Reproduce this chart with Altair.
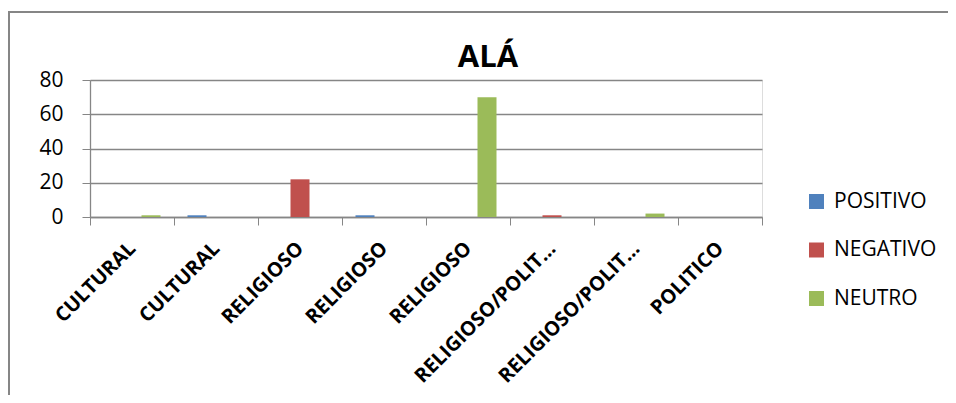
import json
import altair as alt
import pandas as pd

categories = ["CULTURAL", "CULTURAL", "RELIGIOSO", "RELIGIOSO", "RELIGIOSO",
              "RELIGIOSO/POLIT…", "RELIGIOSO/POLIT…", "POLITICO"]
series = ["POSITIVO", "NEGATIVO", "NEUTRO"]
positivo = [0, 1, 0, 1, 0, 0, 0, 0]
negativo = [0, 0, 22, 0, 0, 1, 0, 0]
neutro = [1, 0, 0, 0, 70, 0, 2, 0]
colors = ["#4F81BD", "#C0504D", "#9BBB59"]
y_ticks = [0, 20, 40, 60, 80]
title_text = "ALÁ"

rows = []
for s, vals in zip(series, [positivo, negativo, neutro]):
    for i, v in enumerate(vals):
        rows.append({"idx": i, "serie": s, "valor": v})
df = pd.DataFrame(rows)

label_expr = json.dumps(categories, ensure_ascii=False) + "[datum.value]"
FONT = "Open Sans"
GRAY = "#868686"

bars = alt.Chart(df).mark_bar().encode(
    x=alt.X("idx:O", sort=list(range(len(categories))),
            scale=alt.Scale(paddingInner=0, paddingOuter=0),
            axis=alt.Axis(title=None, labelExpr=label_expr, labelAngle=-45,
                          labelFont=FONT, labelFontWeight="bold", labelFontSize=20,
                          labelColor="#000000", labelPadding=13, labelOffset=-7,
                          labelLimit=400,
                          tickBand="extent", tickSize=8, tickColor=GRAY,
                          domainColor=GRAY, domainWidth=1.3, grid=False,
                          labelOverlap=False)),
    xOffset=alt.XOffset("serie:N", sort=series,
                        scale=alt.Scale(paddingInner=0, paddingOuter=0.71)),
    y=alt.Y("valor:Q", scale=alt.Scale(domain=[0, 80], nice=False),
            axis=alt.Axis(title=None, values=y_ticks, labelFont=FONT,
                          labelFontSize=21, labelColor="#000000", labelPadding=19,
                          tickSize=8, tickColor=GRAY, domainColor=GRAY,
                          domainWidth=1.3, gridColor=GRAY, gridWidth=1.3)),
    color=alt.Color("serie:N", sort=series,
                    scale=alt.Scale(domain=series, range=colors),
                    legend=alt.Legend(title=None, orient="none", legendX=716,
                                      legendY=111, symbolType="square",
                                      symbolSize=225, symbolStrokeWidth=0,
                                      labelFont=FONT, labelFontSize=21,
                                      labelColor="#000000", labelOffset=7,
                                      rowPadding=26.5, padding=0)),
)

one = pd.DataFrame({"k": [0]})
frame_left = alt.Chart(one).mark_rule(stroke=GRAY, strokeWidth=2).encode(
    x=alt.value(-81), y=alt.value(-69), y2=alt.value(330))
frame_top = alt.Chart(one).mark_rule(stroke=GRAY, strokeWidth=2).encode(
    x=alt.value(-82), x2=alt.value(900), y=alt.value(-68))

title = alt.Chart(pd.DataFrame({"t": [title_text]})).mark_text(
    font=FONT, fontSize=31, fontWeight="bold", color="#000000",
    align="center", baseline="alphabetic"
).encode(text="t:N", x=alt.value(398), y=alt.value(-13))

chart = alt.layer(frame_left, frame_top, bars, title).properties(
    width=672, height=137,
    autosize=alt.AutoSizeParams(type="none"),
    padding={"left": 82, "top": 72, "right": 186, "bottom": 178},
).configure_view(stroke=None).configure(background="white")

chart.save("out.html", embed_options={"renderer": "svg", "actions": False})
